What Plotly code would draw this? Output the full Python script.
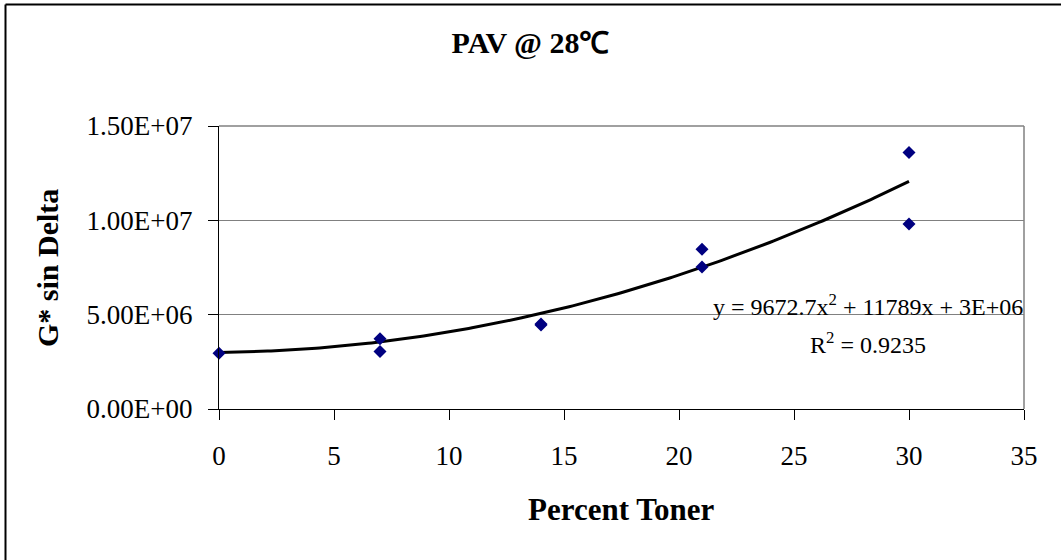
import numpy as np
import plotly.graph_objects as go

# Measured G* sin(delta) values for PAV-aged binder at 28 °C
toner_pct = [0, 7, 7, 14, 14, 21, 21, 30, 30]
g_sin_delta = [2.95e6, 3.72e6, 3.05e6, 4.50e6, 4.45e6, 8.47e6, 7.52e6, 1.36e7, 9.81e6]

# Polynomial trendline coefficients (as reported on the chart)
coef_a, coef_b, coef_c = 9672.7, 11789.0, 3e6
r_squared = 0.9235

x_ticks = [0, 5, 10, 15, 20, 25, 30, 35]
y_ticks = [0, 5e6, 1e7, 1.5e7]
y_tick_text = ["0.00E+00", "5.00E+06", "1.00E+07", "1.50E+07"]

SERIF = "Liberation Serif, Times New Roman, serif"

W, H = 1061, 560
L, R, T, B = 219, 37, 126, 151
pw, ph = W - L - R, H - T - B


def px_x(px):
    return (px - L) / pw


def px_y(py):
    return (H - B - py) / ph


trend_x = np.linspace(0, 30, 200)
trend_y = coef_a * trend_x ** 2 + coef_b * trend_x + coef_c

fig = go.Figure()
fig.add_trace(go.Scatter(
    x=trend_x, y=trend_y, mode="lines",
    line=dict(color="black", width=3),
    hoverinfo="skip", showlegend=False, cliponaxis=False,
))
fig.add_trace(go.Scatter(
    x=toner_pct, y=g_sin_delta, mode="markers",
    marker=dict(symbol="diamond", size=10, color="#000080",
                line=dict(width=0)),
    showlegend=False, cliponaxis=False,
))

fig.update_layout(
    width=W, height=H,
    margin=dict(l=L, r=R, t=T, b=B, autoexpand=False),
    paper_bgcolor="white", plot_bgcolor="white",
    font=dict(family=SERIF, color="black", size=24),
    title=dict(text="<b>PAV @ 28℃</b>", x=0.5, xref="container",
               y=1 - 42 / H, yref="container", yanchor="middle",
               xanchor="center", font=dict(size=30, family=SERIF)),
    xaxis=dict(
        range=[0, 35], tickvals=x_ticks, ticks="outside", ticklen=10,
        tickcolor="black", tickwidth=1, showline=True, linecolor="black",
        linewidth=1, showgrid=False, zeroline=False,
        tickfont=dict(size=27, family=SERIF), ticklabelstandoff=13,
    ),
    yaxis=dict(
        range=[0, 1.5e7], tickvals=y_ticks, ticktext=y_tick_text,
        ticks="outside", ticklen=10, tickcolor="black", tickwidth=1,
        showline=True, linecolor="black", linewidth=1,
        showgrid=True, gridcolor="#808080", gridwidth=1, zeroline=False,
        tickfont=dict(size=27, family=SERIF), ticklabelstandoff=10,
    ),
)

# Plot-area frame (top and right edges) and outer chart border
fig.add_shape(type="line", xref="paper", yref="paper", x0=0, x1=1, y0=1, y1=1,
              line=dict(color="#808080", width=1.5), layer="below")
fig.add_shape(type="line", xref="paper", yref="paper", x0=1, x1=1, y0=0, y1=1,
              line=dict(color="#808080", width=1.5), layer="below")
fig.add_shape(type="line", xref="paper", yref="paper",
              x0=px_x(5.5), x1=px_x(1080), y0=px_y(4.5), y1=px_y(4.5),
              line=dict(color="black", width=2))
fig.add_shape(type="line", xref="paper", yref="paper",
              x0=px_x(5.5), x1=px_x(5.5), y0=px_y(4.5), y1=px_y(580),
              line=dict(color="black", width=2))

# Axis titles
fig.add_annotation(text="<b>Percent Toner</b>", xref="paper", yref="paper",
                   x=px_x(621), y=px_y(510), xanchor="center", yanchor="middle",
                   showarrow=False, font=dict(size=31, family=SERIF))
fig.add_annotation(text="<b>G* sin Delta</b>", xref="paper", yref="paper",
                   x=px_x(47), y=px_y(268), xanchor="center", yanchor="middle",
                   textangle=-90, showarrow=False,
                   font=dict(size=30, family=SERIF))

# Trendline equation and fit quality
eq_text = f"y = {coef_a:g}x<sup>2</sup> + {coef_b:g}x + 3E+06"
fig.add_annotation(text=eq_text, xref="paper", yref="paper",
                   x=px_x(868), y=px_y(305), xanchor="center", yanchor="middle",
                   showarrow=False, font=dict(size=24, family=SERIF))
fig.add_annotation(text=f"R<sup>2</sup> = {r_squared}", xref="paper", yref="paper",
                   x=px_x(868), y=px_y(343), xanchor="center", yanchor="middle",
                   showarrow=False, font=dict(size=24, family=SERIF))

fig.write_html("out.html")
